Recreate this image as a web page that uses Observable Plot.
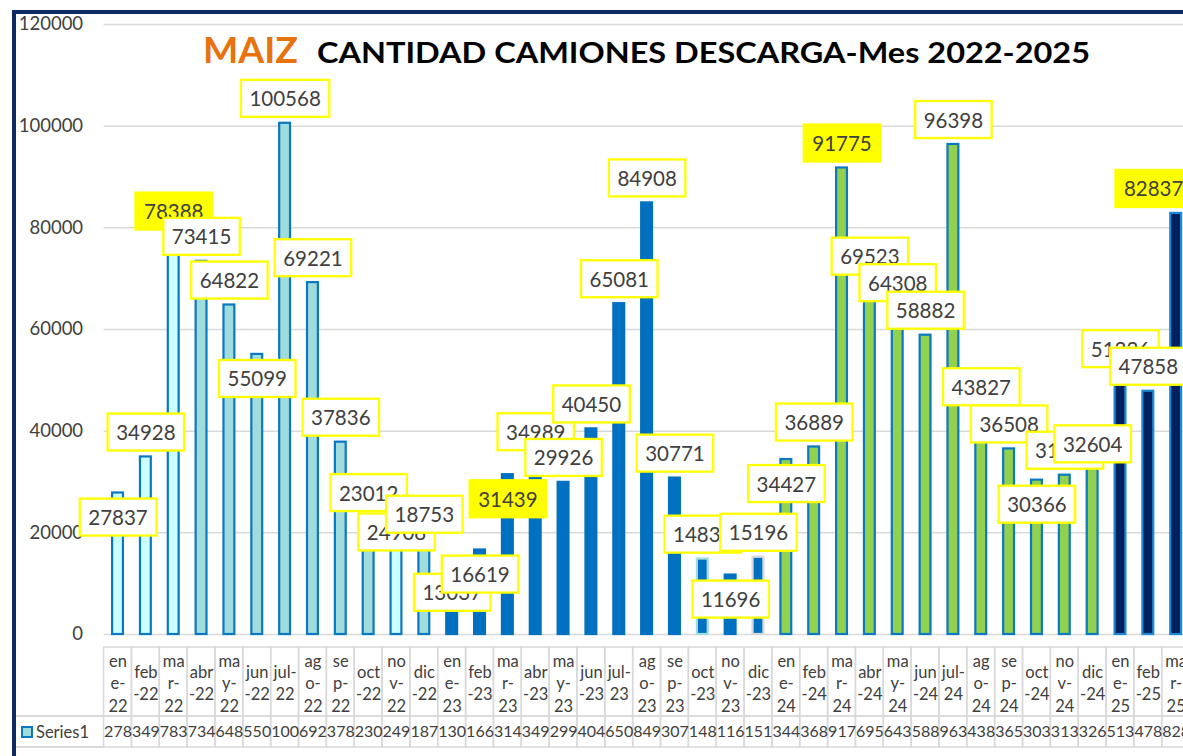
<!DOCTYPE html>
<html>
<head>
<meta charset="utf-8">
<script src="https://cdn.jsdelivr.net/npm/d3@7"></script>
<script src="https://cdn.jsdelivr.net/npm/@observablehq/plot@0.6"></script>
<style>
  html, body { margin: 0; padding: 0; background: #fff; overflow: hidden; }
  #wrap { position: relative; width: 1183px; height: 756px; overflow: hidden; background: #fff; font-family: Lato, "Open Sans", sans-serif; }
  #wrap svg.chart { position: absolute; left: 0; top: 0; max-width: none !important; height: auto; }
  .frame { position: absolute; background: #0d2a63; z-index: 3; }
  .tline { position: absolute; background: #d9d9d9; height: 1.5px; z-index: 2; }
  #key { position: absolute; left: 21px; top: 726px; width: 8px; height: 8px; background: #A0DCDC; border: 2px solid #0A78C2; z-index: 2; }
  #serie { position: absolute; left: 36px; top: 721px; font-size: 16.5px; color: #404040; line-height: 22px; z-index: 2; }
  #titulo { position: absolute; left: 0; top: 0; z-index: 2; }
</style>
</head>
<body>
<div id="wrap">
  <svg id="titulo" width="1183" height="80">
    <text x="203" y="63" font-family="Lato" font-weight="bold" font-size="37" fill="#E8720C" textLength="95" lengthAdjust="spacingAndGlyphs">MAIZ</text>
    <text x="317" y="63" font-family="Lato" font-weight="bold" font-size="28" fill="#000" textLength="773" lengthAdjust="spacingAndGlyphs">CANTIDAD CAMIONES DESCARGA-Mes 2022-2025</text>
  </svg>
</div>
<script>
// ---- data ----
const meses = ["ene-22","feb-22","mar-22","abr-22","may-22","jun-22","jul-22","ago-22","sep-22","oct-22","nov-22","dic-22",
  "ene-23","feb-23","mar-23","abr-23","may-23","jun-23","jul-23","ago-23","sep-23","oct-23","nov-23","dic-23",
  "ene-24","feb-24","mar-24","abr-24","may-24","jun-24","jul-24","ago-24","sep-24","oct-24","nov-24","dic-24",
  "ene-25","feb-25","mar-25"];
const camiones = [27837,34928,78388,73415,64822,55099,100568,69221,37836,23012,24908,18753,
  13037,16619,31439,34989,29926,40450,65081,84908,30771,14836,11696,15196,
  34427,36889,91775,69523,64308,58882,96398,43827,36508,30366,31340,32604,
  51326,47858,82837];
const grupo = ["claro","claro","claro","medio","medio","medio","medio","medio","medio","medio","claro","medio",
  "azul","azul","azul","azul","azul","azul","azul","azul","azul","azulBordeClaro","azul","azulBordeGris",
  "verde","verde","verde","verde","verde","verde","verde","verde","verde","verde","verde","verde",
  "marino","marino","marino"];
const yTicks = [0,20000,40000,60000,80000,100000,120000];
const serieNombre = "Series1";
// months whose label sits just inside the bar top
const etiquetaDentro = ["ene-22","jun-22","nov-22","ene-23","feb-23","mar-23","nov-23","ene-24","oct-24"];

// ---- styles ----
const relleno = {claro:"#CCFFFF", medio:"#A0DCDC", azul:"#0070C0", azulBordeClaro:"#0070C0", azulBordeGris:"#0070C0", verde:"#92D050", marino:"#002060"};
const borde = {claro:"#0A78C2", medio:"#0A78C2", azul:"#0070C0", azulBordeClaro:"#A0DCDC", azulBordeGris:"#D9D9D9", verde:"#0A78C2", marino:"#1E88D2"};

const data = meses.map((m, i) => ({mes: m, valor: camiones[i], grupo: grupo[i]}));

const W = 1190, H = 756, mL = 103.6, mR = 0.4, mT = 24, mB = 122;
const frameBottom = H - mB;
const headTop = 647, headBottom = 716, rowBottom = 747;

function partir(m) {
  const [mon, yy] = m.split("-");
  if (["feb","abr","jun","oct","dic"].includes(mon)) return mon + "\n-" + yy;
  if (mon === "jul") return "jul-\n" + yy;
  return mon.slice(0, 2) + "\n" + mon.slice(2) + "-\n" + yy;
}

const plot = Plot.plot({
  width: W, height: H,
  marginLeft: mL, marginRight: mR, marginTop: mT, marginBottom: mB,
  style: {fontFamily: "Lato, 'Open Sans', sans-serif", color: "#404040", background: "transparent"},
  x: {domain: meses, padding: 0, axis: null},
  y: {domain: [0, 120000], axis: null},
  color: {type: "identity"},
  marks: [
    Plot.ruleY(yTicks, {y: d => d, stroke: "#d9d9d9", strokeWidth: 1.5}),
    Plot.text(yTicks, {y: d => d, text: d => String(d), frameAnchor: "left", dx: -21, textAnchor: "end", lineAnchor: "middle", fontSize: 18.5, fill: "#404040"}),
    Plot.barY(data, {x: "mes", y: "valor", fill: d => relleno[d.grupo], stroke: d => borde[d.grupo], strokeWidth: 2.2, insetLeft: 8.5, insetRight: 8.5}),
    // data table
    Plot.cell(meses, {x: d => d, fill: "none", stroke: "#d9d9d9", strokeWidth: 1.5, insetTop: headTop - mT, insetBottom: frameBottom - headBottom}),
    Plot.cell(meses, {x: d => d, fill: "none", stroke: "#d9d9d9", strokeWidth: 1.5, insetTop: headBottom - mT, insetBottom: frameBottom - rowBottom}),
    Plot.text(meses, {x: d => d, text: partir, frameAnchor: "bottom", dy: (headTop + headBottom) / 2 - frameBottom, lineAnchor: "middle", lineHeight: 1.36, fontSize: 16.5, fill: "#404040"}),
    Plot.text(data, {x: "mes", text: d => String(d.valor).slice(0, 3), frameAnchor: "bottom", dy: (headBottom + rowBottom) / 2 - frameBottom, lineAnchor: "middle", fontSize: 16, fill: "#404040"}),
    // value labels
    Plot.text(data, {filter: d => etiquetaDentro.includes(d.mes), x: "mes", y: "valor", text: d => String(d.valor), dy: 25.5, lineAnchor: "middle", fontSize: 20.5, fill: "#404040", ariaLabel: "etiqueta"}),
    Plot.text(data, {filter: d => !etiquetaDentro.includes(d.mes), x: "mes", y: "valor", text: d => String(d.valor), dy: -23.5, lineAnchor: "middle", fontSize: 20.5, fill: "#404040", ariaLabel: "etiqueta"})
  ]
});
plot.classList.add("chart");
const wrap = document.getElementById("wrap");
wrap.insertBefore(plot, wrap.firstChild);

// label boxes behind each label (kept inside the chart area, as the spreadsheet does)
const svgNS = "http://www.w3.org/2000/svg";
const destacados = new Set(data.filter(d => d.mes.startsWith("mar")).map(d => String(d.valor)));
const etiquetas = new Set(camiones.map(String));
let textos = Array.from(plot.querySelectorAll('text[aria-label="etiqueta"], g[aria-label="etiqueta"] text'));
if (textos.length === 0) {
  textos = Array.from(plot.querySelectorAll("text")).filter(t => etiquetas.has(t.textContent) && t.closest("g") && t.closest("g").getAttribute("font-size") === "20.5");
}
textos.forEach(t => {
  const b = t.getBBox();
  const w = b.width + 17, h = 37;
  const r = document.createElementNS(svgNS, "rect");
  r.setAttribute("x", b.x + b.width / 2 - w / 2);
  r.setAttribute("y", b.y + b.height / 2 - h / 2);
  r.setAttribute("width", w);
  r.setAttribute("height", h);
  const tr = t.getAttribute("transform") || "";
  r.setAttribute("transform", tr);
  const hi = destacados.has(t.textContent);
  r.setAttribute("fill", hi ? "#FFFF00" : "#FFFFFF");
  r.setAttribute("stroke", "#FFFF00");
  r.setAttribute("stroke-width", "2.3");
  t.parentNode.insertBefore(r, t);
  // clamp inside chart area on the right
  const rb = r.getBoundingClientRect();
  const pb = plot.getBoundingClientRect();
  const over = (rb.right - pb.left) - (W + 2);
  if (over > 0) {
    const shift = ` translate(${-over},0)`;
    r.setAttribute("transform", tr + shift);
    t.setAttribute("transform", tr + shift);
  }
});

// frame, table left part, legend key
function div(cls, css) {
  const d = document.createElement("div");
  d.className = cls; Object.assign(d.style, css);
  wrap.appendChild(d);
  return d;
}
div("frame", {left: "12px", top: "10px", width: "1200px", height: "4px"});
div("frame", {left: "12px", top: "10px", width: "4px", height: "760px"});
div("tline", {left: "16px", top: (headBottom - 0.75) + "px", width: (mL - 16) + "px"});
div("tline", {left: "16px", top: (rowBottom - 0.75) + "px", width: (mL - 16) + "px"});
const k = document.createElement("div"); k.id = "key"; wrap.appendChild(k);
const s = document.createElement("div"); s.id = "serie"; s.textContent = serieNombre; wrap.appendChild(s);
</script>
</body>
</html>
